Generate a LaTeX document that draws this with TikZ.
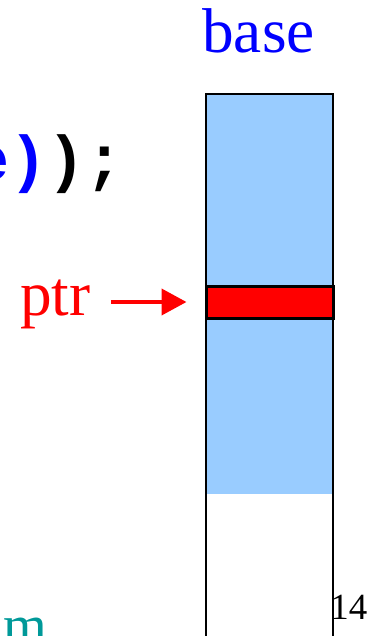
\documentclass[tikz,border=0pt]{standalone}
\usepackage{fontspec}
\setmainfont{Liberation Serif}
\newfontfamily\codefont{Liberation Mono}
\usetikzlibrary{arrows.meta,positioning}
\definecolor{memblue}{RGB}{153,204,255}
\definecolor{codeblue}{RGB}{0,0,255}
\definecolor{langteal}{RGB}{0,153,153}

\tikzset{
    txt/.style={inner sep=0pt, anchor=base west},
    cell/.style={draw=black, line width=0.06cm, minimum width=127*0.02cm, inner sep=0pt}
}

\begin{document}
\begin{tikzpicture}[x=0.02cm, y=-0.02cm]
    \clip (0,0) rectangle (370,636);
    % memory column
    \fill[memblue] (206,94) rectangle (333,494);
    \draw[black, line width=0.05cm] (206,660) -- (206,94) -- (333,94) -- (333,660);
    \node (slot) [cell, fill=red, minimum height=32*0.02cm] at (269.5,302) {};

    \node (base) [txt, text=codeblue] at (202,52) {\fontsize{36}{40}\selectfont base};
    \node (ptr) [txt, text=red] at (20,315) {\fontsize{36}{40}\selectfont ptr};
    \node (code) [txt] at (-29,180) {\fontsize{36}{40}\selectfont\codefont\bfseries\textcolor{codeblue}{e)});};
    \node (page) [txt] at (330,619) {\fontsize{21}{24}\selectfont 14};
    \node (lang) [txt, text=langteal] at (3,644) {\fontsize{32}{36}\selectfont m};

    \draw[red, line width=0.08cm, -{Triangle[length=25*0.02cm, width=26*0.02cm]}, shorten <=20*0.02cm, shorten >=18*0.02cm] (ptr.east |- slot) -- (slot.west);
\end{tikzpicture}
\end{document}
